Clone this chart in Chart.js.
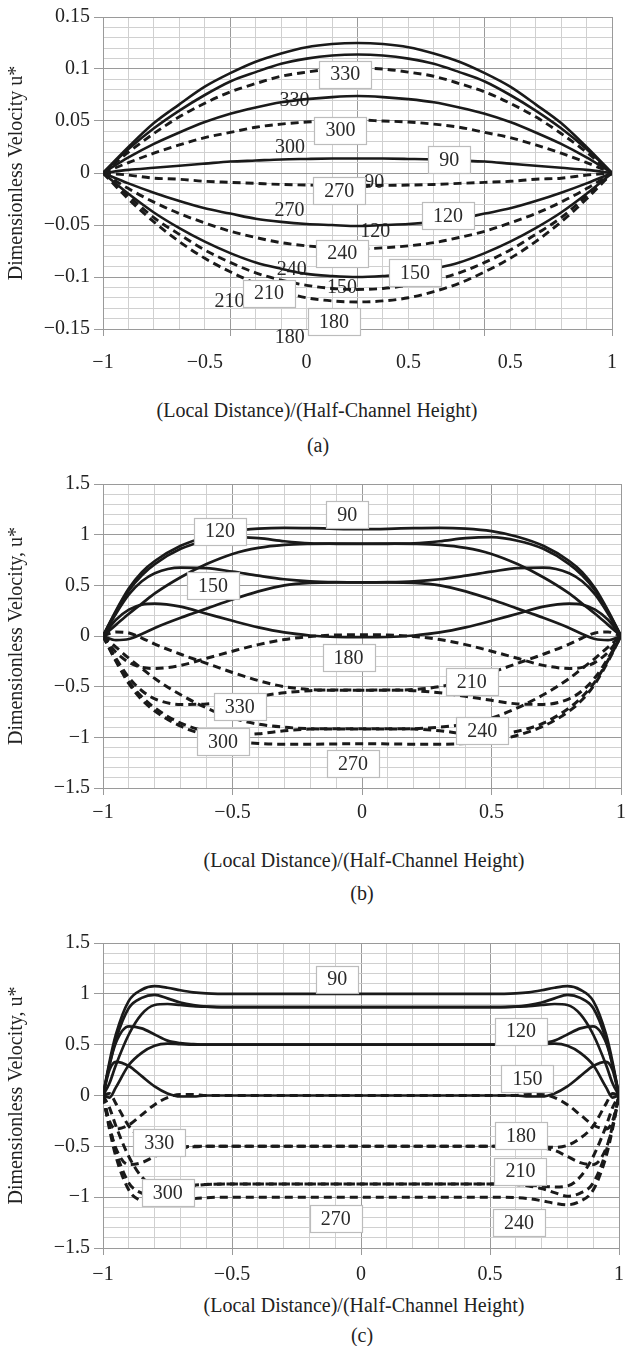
<!DOCTYPE html>
<html><head><meta charset="utf-8">
<script src="https://cdn.jsdelivr.net/npm/chart.js@4"></script>
<style>
html,body{margin:0;padding:0;background:#fff;overflow:hidden;width:628px;height:1346px;position:relative;}
canvas{position:absolute;left:0;}
.txt{position:absolute;width:500px;text-align:center;font-family:"Liberation Serif","Times New Roman",serif;font-size:20px;line-height:24px;color:#222;white-space:nowrap;}
</style></head><body>
<canvas id="ca" width="632" height="390" style="top:1px"></canvas>
<canvas id="cb" width="632" height="360" style="top:468px"></canvas>
<canvas id="cc" width="632" height="360" style="top:927px"></canvas>
<div class="txt" style="left:67px;top:398px">(Local Distance)/(Half-Channel Height)</div>
<div class="txt" style="left:68px;top:433px">(a)</div>
<div class="txt" style="left:114px;top:848px">(Local Distance)/(Half-Channel Height)</div>
<div class="txt" style="left:112px;top:881px">(b)</div>
<div class="txt" style="left:114px;top:1293px">(Local Distance)/(Half-Channel Height)</div>
<div class="txt" style="left:112px;top:1323px">(c)</div>
<script>
// ---------- tick labels ----------
const xTicksA = ["\u22121","\u22120.5","0","0.5","0.5","1"];
const xTicksBC = ["\u22121","\u22120.5","0","0.5","1"];
const yTicksA = ["\u22120.15","\u22120.1","\u22120.05","0","0.05","0.1","0.15"];
const yTicksBC = ["\u22121.5","\u22121","\u22120.5","0","0.5","1","1.5"];

// ---------- panel (a) ----------
const xA = [-1,-0.9,-0.8,-0.7,-0.6,-0.5,-0.4,-0.3,-0.2,-0.1,0,0.1,0.2,0.3,0.4,0.5,0.6,0.7,0.8,0.9,1];
const a0   = [0,0.025,0.048,0.066,0.083,0.096,0.107,0.115,0.121,0.124,0.125,0.124,0.121,0.115,0.107,0.096,0.083,0.066,0.048,0.025,0];
const a30  = [0,0.023,0.043,0.060,0.075,0.088,0.097,0.105,0.110,0.113,0.114,0.113,0.110,0.105,0.097,0.088,0.075,0.060,0.043,0.023,0];
const a60  = [0,0.015,0.028,0.039,0.049,0.057,0.063,0.068,0.071,0.073,0.074,0.073,0.071,0.068,0.063,0.057,0.049,0.039,0.028,0.015,0];
const a90  = [0,0.003,0.005,0.007,0.009,0.011,0.012,0.013,0.0135,0.0139,0.014,0.0139,0.0135,0.013,0.012,0.011,0.009,0.007,0.005,0.003,0];
const a120 = [0,-0.010,-0.019,-0.027,-0.034,-0.039,-0.044,-0.047,-0.049,-0.050,-0.051,-0.050,-0.049,-0.047,-0.044,-0.039,-0.034,-0.027,-0.019,-0.010,0];
const a150 = [0,-0.020,-0.038,-0.053,-0.066,-0.077,-0.086,-0.092,-0.097,-0.099,-0.100,-0.099,-0.097,-0.092,-0.086,-0.077,-0.066,-0.053,-0.038,-0.020,0];
const a180 = [0,-0.025,-0.047,-0.066,-0.082,-0.095,-0.106,-0.114,-0.120,-0.123,-0.124,-0.123,-0.120,-0.114,-0.106,-0.095,-0.082,-0.066,-0.047,-0.025,0];
const a210 = [0,-0.022,-0.043,-0.059,-0.074,-0.086,-0.096,-0.103,-0.108,-0.111,-0.112,-0.111,-0.108,-0.103,-0.096,-0.086,-0.074,-0.059,-0.043,-0.022,0];
const a240 = [0,-0.015,-0.028,-0.039,-0.048,-0.056,-0.062,-0.067,-0.070,-0.072,-0.073,-0.072,-0.070,-0.067,-0.062,-0.056,-0.048,-0.039,-0.028,-0.015,0];
const a270 = [0,-0.002,-0.005,-0.006,-0.008,-0.009,-0.010,-0.011,-0.0116,-0.0119,-0.012,-0.0119,-0.0116,-0.011,-0.010,-0.009,-0.008,-0.006,-0.005,-0.002,0];
const a300 = [0,0.010,0.019,0.027,0.034,0.039,0.044,0.047,0.049,0.050,0.051,0.050,0.049,0.047,0.044,0.039,0.034,0.027,0.019,0.010,0];
const a330 = [0,0.020,0.038,0.054,0.067,0.078,0.086,0.093,0.097,0.100,0.101,0.100,0.097,0.093,0.086,0.078,0.067,0.054,0.038,0.020,0];
const boxLabelsA = [
  {text:"330",x:-0.048,y:0.0950},{text:"300",x:-0.067,y:0.0412},{text:"90",x:0.361,y:0.0126},
  {text:"270",x:-0.072,y:-0.0166},{text:"120",x:0.356,y:-0.0410},{text:"240",x:-0.060,y:-0.0770},
  {text:"150",x:0.226,y:-0.0959},{text:"210",x:-0.348,y:-0.1155},{text:"180",x:-0.092,y:-0.1430}
];
const plainLabelsA = [
  {text:"330",x:-0.248,y:0.0709},{text:"300",x:-0.265,y:0.0254},{text:"90",x:0.066,y:-0.0080},
  {text:"270",x:-0.267,y:-0.0356},{text:"120",x:0.070,y:-0.0560},{text:"240",x:-0.258,y:-0.0922},
  {text:"150",x:-0.061,y:-0.1090},{text:"210",x:-0.503,y:-0.1230},{text:"180",x:-0.266,y:-0.1570}
];

// ---------- panel (b) ----------
const xB = [-1,-0.95,-0.9,-0.85,-0.8,-0.7,-0.6,-0.5,-0.4,-0.3,-0.2,-0.1,0,0.1,0.2,0.3,0.4,0.5,0.6,0.7,0.8,0.85,0.9,0.95,1];
const b0   = [0,0.16,0.26,0.31,0.32,0.29,0.22,0.15,0.085,0.035,0.005,-0.01,-0.012,-0.01,0.005,0.035,0.085,0.15,0.22,0.29,0.32,0.31,0.26,0.16,0];
const b30  = [0,0.22,0.41,0.54,0.62,0.675,0.67,0.635,0.595,0.56,0.54,0.532,0.53,0.532,0.54,0.56,0.595,0.635,0.67,0.675,0.62,0.54,0.41,0.22,0];
const b60  = [0,0.24,0.45,0.6,0.71,0.86,0.94,0.975,0.965,0.935,0.915,0.91,0.908,0.91,0.915,0.935,0.965,0.975,0.94,0.86,0.71,0.6,0.45,0.24,0];
const b90  = [0,0.25,0.47,0.63,0.74,0.89,0.98,1.035,1.06,1.068,1.065,1.058,1.055,1.058,1.065,1.068,1.06,1.035,0.98,0.89,0.74,0.63,0.47,0.25,0];
const b120 = [0,0.11,0.22,0.32,0.42,0.58,0.71,0.81,0.87,0.9,0.91,0.912,0.912,0.912,0.91,0.9,0.87,0.81,0.71,0.58,0.42,0.32,0.22,0.11,0];
const b150 = [0,-0.04,-0.03,0.02,0.08,0.18,0.27,0.36,0.44,0.5,0.525,0.53,0.53,0.53,0.525,0.5,0.44,0.36,0.27,0.18,0.08,0.02,-0.03,-0.04,0];
const b180 = [0,-0.16,-0.26,-0.31,-0.32,-0.29,-0.22,-0.15,-0.085,-0.035,-0.005,0.01,0.012,0.01,-0.005,-0.035,-0.085,-0.15,-0.22,-0.29,-0.32,-0.31,-0.26,-0.16,0];
const b210 = [0,-0.22,-0.41,-0.54,-0.62,-0.675,-0.67,-0.635,-0.595,-0.56,-0.54,-0.532,-0.535,-0.532,-0.54,-0.56,-0.595,-0.635,-0.67,-0.675,-0.62,-0.54,-0.41,-0.22,0];
const b240 = [0,-0.24,-0.45,-0.6,-0.71,-0.86,-0.94,-0.975,-0.965,-0.935,-0.918,-0.915,-0.915,-0.915,-0.918,-0.935,-0.965,-0.975,-0.94,-0.86,-0.71,-0.6,-0.45,-0.24,0];
const b270 = [0,-0.25,-0.47,-0.63,-0.74,-0.89,-0.98,-1.035,-1.06,-1.068,-1.068,-1.065,-1.063,-1.065,-1.068,-1.068,-1.06,-1.035,-0.98,-0.89,-0.74,-0.63,-0.47,-0.25,0];
const b300 = [0,-0.11,-0.22,-0.32,-0.42,-0.58,-0.71,-0.81,-0.87,-0.9,-0.915,-0.918,-0.918,-0.918,-0.915,-0.9,-0.87,-0.81,-0.71,-0.58,-0.42,-0.32,-0.22,-0.11,0];
const b330 = [0,0.04,0.03,-0.02,-0.08,-0.18,-0.27,-0.36,-0.44,-0.5,-0.528,-0.535,-0.535,-0.535,-0.528,-0.5,-0.44,-0.36,-0.27,-0.18,-0.08,-0.02,0.03,0.04,0];
const boxLabelsB = [
  {text:"90",x:-0.057,y:1.20},{text:"120",x:-0.548,y:1.035},{text:"150",x:-0.575,y:0.50},
  {text:"180",x:-0.052,y:-0.212},{text:"210",x:0.424,y:-0.452},{text:"240",x:0.464,y:-0.935},
  {text:"330",x:-0.472,y:-0.695},{text:"300",x:-0.537,y:-1.040},{text:"270",x:-0.035,y:-1.262}
];
const plainLabelsB = [];

// ---------- panel (c) ----------
const xC = [-1,-0.975,-0.95,-0.9,-0.85,-0.8,-0.75,-0.7,-0.65,-0.6,-0.5,-0.25,0,0.25,0.5,0.6,0.65,0.7,0.75,0.8,0.85,0.9,0.95,0.975,1];
const c0   = [0,0.25,0.33,0.29,0.19,0.09,0.02,-0.01,-0.01,0,0,0,0,0,0,0,-0.01,-0.01,0.02,0.09,0.19,0.29,0.33,0.25,0];
const c30  = [0,0.3,0.52,0.68,0.66,0.6,0.54,0.515,0.505,0.5,0.5,0.5,0.5,0.5,0.5,0.5,0.505,0.515,0.54,0.6,0.66,0.68,0.52,0.3,0];
const c60  = [0,0.3,0.55,0.86,0.96,0.99,0.955,0.915,0.89,0.875,0.87,0.87,0.87,0.87,0.87,0.875,0.89,0.915,0.955,0.99,0.96,0.86,0.55,0.3,0];
const c90  = [0,0.33,0.6,0.93,1.04,1.075,1.06,1.035,1.015,1.005,1.0,1.0,1.0,1.0,1.0,1.005,1.015,1.035,1.06,1.075,1.04,0.93,0.6,0.33,0];
const c120 = [0,0.12,0.3,0.6,0.8,0.89,0.9,0.89,0.88,0.875,0.87,0.87,0.87,0.87,0.87,0.875,0.88,0.89,0.9,0.89,0.8,0.6,0.3,0.12,0];
const c150 = [0,-0.02,0.08,0.3,0.42,0.49,0.51,0.505,0.5,0.5,0.5,0.5,0.5,0.5,0.5,0.5,0.5,0.505,0.51,0.49,0.42,0.3,0.08,-0.02,0];
const c180 = [0,-0.25,-0.33,-0.29,-0.19,-0.09,-0.02,0.01,0.01,0,0,0,0,0,0,0,0.01,0.01,-0.02,-0.09,-0.19,-0.29,-0.33,-0.25,0];
const c210 = [0,-0.3,-0.52,-0.68,-0.66,-0.6,-0.54,-0.515,-0.505,-0.5,-0.5,-0.5,-0.5,-0.5,-0.5,-0.5,-0.505,-0.515,-0.54,-0.6,-0.66,-0.68,-0.52,-0.3,0];
const c240 = [0,-0.3,-0.55,-0.86,-0.96,-0.99,-0.955,-0.915,-0.89,-0.875,-0.87,-0.87,-0.87,-0.87,-0.87,-0.875,-0.89,-0.915,-0.955,-0.99,-0.96,-0.86,-0.55,-0.3,0];
const c270 = [0,-0.33,-0.6,-0.93,-1.04,-1.075,-1.06,-1.035,-1.015,-1.005,-1.0,-1.0,-1.0,-1.0,-1.0,-1.005,-1.015,-1.035,-1.06,-1.075,-1.04,-0.93,-0.6,-0.33,0];
const c300 = [0,-0.12,-0.3,-0.6,-0.8,-0.89,-0.9,-0.89,-0.88,-0.875,-0.87,-0.87,-0.87,-0.87,-0.87,-0.875,-0.88,-0.89,-0.9,-0.89,-0.8,-0.6,-0.3,-0.12,0];
const c330 = [0,0.02,-0.08,-0.3,-0.42,-0.49,-0.51,-0.505,-0.5,-0.5,-0.5,-0.5,-0.5,-0.5,-0.5,-0.5,-0.5,-0.505,-0.51,-0.49,-0.42,-0.3,-0.08,0.02,0];
const boxLabelsC = [
  {text:"90",x:-0.092,y:1.144},{text:"120",x:0.620,y:0.633},{text:"150",x:0.645,y:0.167},
  {text:"180",x:0.620,y:-0.395},{text:"210",x:0.618,y:-0.743},{text:"240",x:0.612,y:-1.250},
  {text:"330",x:-0.782,y:-0.466},{text:"300",x:-0.749,y:-0.958},{text:"270",x:-0.098,y:-1.210}
];
const plainLabelsC = [];

// ---------- styling / rendering ----------
const FONT_FAMILY = '"Liberation Serif","Times New Roman",serif';
const TXT = '#222';
const MAJOR = '#9a9a9a', MINOR = '#d0d0d0';
const LINE = '#1a1a1a';

const curveLabels = {
  id: 'curveLabels',
  beforeDatasetsDraw(chart, args, o) {
    const {ctx} = chart, x = chart.scales.x, y = chart.scales.y;
    ctx.save();
    ctx.font = '20px ' + FONT_FAMILY;
    ctx.fillStyle = '#2a2a2a'; ctx.textAlign = 'center'; ctx.textBaseline = 'middle';
    for (const l of (o.plain || [])) ctx.fillText(l.text, x.getPixelForValue(l.x), y.getPixelForValue(l.y) + 1);
    ctx.restore();
  },
  afterDatasetsDraw(chart, args, o) {
    const {ctx} = chart, x = chart.scales.x, y = chart.scales.y;
    ctx.save();
    ctx.font = '20px ' + FONT_FAMILY;
    ctx.textAlign = 'center'; ctx.textBaseline = 'middle';
    for (const l of (o.boxed || [])) {
      const px = x.getPixelForValue(l.x), py = y.getPixelForValue(l.y);
      const w = Math.round(ctx.measureText(l.text).width + 22), h = 27;
      const bx = Math.round(px - w / 2) + 0.5, by = Math.round(py - h / 2) + 0.5;
      ctx.fillStyle = '#fff'; ctx.fillRect(bx, by, w, h);
      ctx.strokeStyle = '#bcbcbc'; ctx.lineWidth = 1.2; ctx.strokeRect(bx, by, w, h);
      ctx.fillStyle = '#2a2a2a'; ctx.fillText(l.text, px, py + 1);
    }
    ctx.restore();
  }
};

function makeChart(id, cfg) {
  const datasets = cfg.series.map(s => ({
    data: cfg.x.map((xv, i) => ({x: xv, y: s.v[i]})),
    borderColor: LINE,
    borderWidth: s.d ? cfg.dw : cfg.sw,
    borderDash: s.d ? [8, 5] : [],
    borderCapStyle: 'butt',
    pointRadius: 0,
    fill: false,
    cubicInterpolationMode: 'monotone'
  }));
  const font = {family: FONT_FAMILY, size: 20, lineHeight: 1.2};
  return new Chart(document.getElementById(id), {
    type: 'line',
    data: {datasets},
    options: {
      responsive: false, animation: false, devicePixelRatio: 1,
      layout: {padding: 0},
      plugins: {legend: {display: false}, tooltip: {enabled: false},
        curveLabels: {boxed: cfg.boxed, plain: cfg.plain}},
      scales: {
        x: {
          type: 'linear', min: -1, max: 1,
          afterFit: s => { s.height = cfg.xh; },
          ticks: {stepSize: 0.1, autoSkip: false, maxRotation: 0, minRotation: 0,
            padding: cfg.xpad, color: TXT, font,
            callback: (v, i) => (i % cfg.xEvery === 0 ? cfg.xLabels[i / cfg.xEvery] : '')},
          grid: {color: c => (c.index % 5 === 0 ? MAJOR : MINOR),
                 tickColor: c => (c.index % 5 === 0 ? MAJOR : 'rgba(0,0,0,0)'),
                 tickLength: 7, lineWidth: 1},
          border: {color: MAJOR, width: 1}
        },
        y: {
          type: 'linear', min: cfg.ymin, max: cfg.ymax,
          afterFit: s => { s.width = 103; },
          ticks: {stepSize: cfg.ystep, autoSkip: false, padding: 4, color: TXT, font,
            callback: (v, i) => (i % 5 === 0 ? cfg.yLabels[i / 5] : '')},
          grid: {color: c => (c.index % 5 === 0 ? MAJOR : MINOR),
                 tickColor: c => (c.index % 5 === 0 ? MAJOR : 'rgba(0,0,0,0)'),
                 tickLength: 9, lineWidth: 1},
          border: {color: MAJOR, width: 1},
          title: {display: true, text: cfg.yTitle, color: TXT, font, padding: {top: 5, bottom: 0}}
        }
      }
    },
    plugins: [curveLabels]
  });
}

makeChart('ca', {
  x: xA, ymin: -0.15, ymax: 0.15, ystep: 0.01, yLabels: yTicksA, xLabels: xTicksA, xEvery: 4,
  xh: 62, xpad: 15, sw: 2.6, dw: 2.9, yTitle: 'Dimensionless Velocity u*',
  boxed: boxLabelsA, plain: plainLabelsA,
  series: [{v:a0},{v:a30},{v:a60},{v:a90},{v:a120},{v:a150},
           {v:a180,d:1},{v:a210,d:1},{v:a240,d:1},{v:a270,d:1},{v:a300,d:1},{v:a330,d:1}]
});
makeChart('cb', {
  x: xB, ymin: -1.5, ymax: 1.5, ystep: 0.1, yLabels: yTicksBC, xLabels: xTicksBC, xEvery: 5,
  xh: 40, xpad: 6, sw: 2.7, dw: 3.0, yTitle: 'Dimensionless Velocity, u*',
  boxed: boxLabelsB, plain: plainLabelsB,
  series: [{v:b0},{v:b30},{v:b60},{v:b90},{v:b120},{v:b150},
           {v:b180,d:1},{v:b210,d:1},{v:b240,d:1},{v:b270,d:1},{v:b300,d:1},{v:b330,d:1}]
});
makeChart('cc', {
  x: xC, ymin: -1.5, ymax: 1.5, ystep: 0.1, yLabels: yTicksBC, xLabels: xTicksBC, xEvery: 5,
  xh: 39, xpad: 8, sw: 2.7, dw: 3.0, yTitle: 'Dimensionless Velocity, u*',
  boxed: boxLabelsC, plain: plainLabelsC,
  series: [{v:c0},{v:c30},{v:c60},{v:c90},{v:c120},{v:c150},
           {v:c180,d:1},{v:c210,d:1},{v:c240,d:1},{v:c270,d:1},{v:c300,d:1},{v:c330,d:1}]
});
</script>
</body></html>
